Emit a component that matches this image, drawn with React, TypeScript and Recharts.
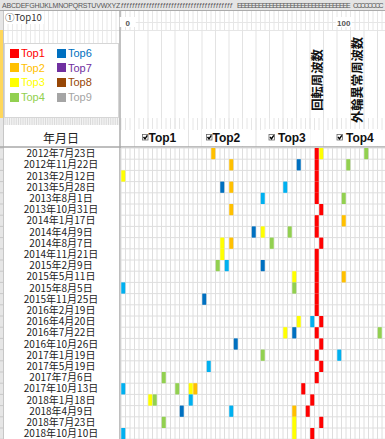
import React from 'react';
import { ScatterChart, Scatter, XAxis, YAxis, CartesianGrid, ReferenceLine, Legend } from 'recharts';

// measurement dates, one row each
const dates = [
  '2012年7月23日', '2012年11月22日', '2013年2月12日', '2013年5月28日', '2013年8月1日',
  '2013年10月31日', '2014年1月17日', '2014年4月9日', '2014年8月7日', '2014年11月21日',
  '2015年2月9日', '2015年5月11日', '2015年8月5日', '2015年11月25日', '2016年2月19日',
  '2016年4月20日', '2016年7月22日', '2016年10月26日', '2017年1月19日', '2017年5月19日',
  '2017年7月6日', '2017年10月13日', '2018年1月18日', '2018年4月9日', '2018年7月23日',
  '2018年10月10日',
];

// frequency bin (column) of each peak rank per row, null = not in visible range
const top1Cols = [43, 43, 43, 43, 43, 44, 43, 43, 44, 43, 43, 43, 43, 43, 43, 44, 43, 44, 43, 44, 43, 40, 42, 41, 44, 42];
const top2Cols = [20, 24, null, 24, null, 24, 49, null, 24, null, null, 49, null, null, null, null, null, null, null, null, null, 16, null, 38, null, null];
const top3Cols = [44, null, 0, null, null, null, null, 31, 22, 22, null, 38, null, null, null, 39, 36, null, null, null, null, 15, 6, null, 38, 38];
const top4Cols = [54, 50, null, null, 49, null, null, 37, 33, null, 21, null, 38, null, null, null, 57, null, 31, null, 9, 12, 7, null, 9, null];
const top5Cols = [null, null, null, 36, 31, null, null, null, null, null, 23, null, 0, null, null, 42, null, null, 48, 19, null, 0, 15, 24, null, 0];
const top6Cols = [null, 39, null, 22, null, null, null, 29, null, null, 31, null, null, 18, null, null, 38, 25, null, null, null, null, null, 13, null, null];

const rankNames = ['Top1', 'Top2', 'Top3', 'Top4', 'Top5', 'Top6'];
const rankColors = ['#FF0000', '#FFC000', '#FFFF00', '#92D050', '#00B0F0', '#0070C0'];
const rankCols = [top1Cols, top2Cols, top3Cols, top4Cols, top5Cols, top6Cols];

// legend (Top5 is not listed in the original sheet)
const legendNames = ['Top1', 'Top2', 'Top3', 'Top4', 'Top6', 'Top7', 'Top8', 'Top9'];
const legendColors = ['#FF0000', '#FFC000', '#FFFF00', '#92D050', '#0070C0', '#7030A0', '#974706', '#A5A5A5'];

// frequency scale labels on top
const hzLabels = ['0', '100'];
const hzCols = [1.5, 49.5];

// vertical marker captions
const markerNames = ['回転周波数', '外輪異常周波数'];
const markerCols = [43, 52];

const checkLabels = ['Top1', 'Top2', 'Top3', 'Top4'];
const checkBoxX = [142, 206, 268.5, 336.5];

const COLS = 59;
const ROWS = 26;
const LEFT = 121;
const TOP = 148;
const CELL_W = 4.5;
const CELL_H = 11.2;

const colTicks = Array.from({ length: COLS + 1 }, (_, i) => i);
const rowTicks = Array.from({ length: ROWS + 1 }, (_, i) => i);
const rowCenters = dates.map((_, i) => i + 0.5);

const toPoints = (cols: (number | null)[]) =>
  cols.flatMap((c, i) => (c == null ? [] : [{ x: c + 0.5, y: i + 0.5 }]));

const JP = '"Noto Sans CJK JP", sans-serif';
const SANS = '"Liberation Sans", Arial, sans-serif';

const DateTick = (p: any) => (
  <text x={61} y={p.y} dy={3.5} textAnchor="middle" fontSize={10} fill="#222" fontFamily={JP}>
    {dates[Math.floor(p.payload.value)]}
  </text>
);

const HzLabel = (text: string) => (p: any) => {
  const x = p.viewBox.x;
  return (
    <g>
      <rect x={x - 8} y={17} width={16} height={10} fill="#fff" />
      <text x={x} y={25.5} textAnchor="middle" fontSize={8} fontWeight={700} fill="#555" fontFamily={SANS}>
        {text}
      </text>
    </g>
  );
};

const MarkerLabel = (text: string) => (p: any) => {
  const x = p.viewBox.x;
  return (
    <text
      x={x}
      y={80}
      transform={`rotate(-90 ${x} 80)`}
      textAnchor="middle"
      dominantBaseline="central"
      fontSize={12.3}
      fontWeight={700}
      fill="#111"
      fontFamily={JP}
    >
      {text}
    </text>
  );
};

const LegendBox = () => (
  <div style={{ position: 'relative', width: 115, height: 75, background: '#fff', border: '1px solid #D6D6D6', boxSizing: 'border-box' }}>
    {legendNames.map((n, i) => {
      const col = i < 4 ? 0 : 1;
      const row = i % 4;
      const left = 5 + col * 47;
      const top = 4 + row * 14.7;
      return (
        <div key={n} style={{ position: 'absolute', left, top, height: 10, display: 'flex', alignItems: 'center' }}>
          <div style={{ width: 9, height: 9, background: legendColors[i] }} />
          <span style={{ marginLeft: 2, fontSize: 11, lineHeight: '10px', color: legendColors[i], fontFamily: SANS }}>{n}</span>
        </div>
      );
    })}
  </div>
);

const vLines = (key: string, x0: number, x1: number, step: number, y1: number, y2: number, color: string) => {
  const out: React.ReactElement[] = [];
  for (let x = x0, k = 0; x <= x1; x += step, k++) {
    out.push(<line key={`${key}${k}`} x1={x} x2={x} y1={y1} y2={y2} stroke={color} strokeWidth={1} />);
  }
  return out;
};

const Backdrop = () => (
  <svg width={385} height={439} style={{ position: 'absolute', left: 0, top: 0 }}>
    {/* sheet column letters */}
    <rect x={0} y={0} width={385} height={10} fill="#E4E4E4" />
    <text x={2} y={8} fontSize={7} fill="#555" fontFamily={SANS} letterSpacing={-0.2}>
      ABCDEFGHIJKLMNOPQRSTUVWXYZ
    </text>
    <text x={121} y={8} fontSize={7} fill="#555" fontFamily={SANS} fontStyle="italic" letterSpacing={0.85}>
      {'f'.repeat(40)}
    </text>
    <text x={237} y={8} fontSize={7} fill="#555" fontFamily={SANS} letterSpacing={-1.15}>
      {'E'.repeat(32)}
    </text>
    <text x={353} y={8} fontSize={7} fill="#555" fontFamily={SANS} letterSpacing={-1.4}>
      {'C'.repeat(8)}
    </text>
    <line x1={0} x2={385} y1={10.5} y2={10.5} stroke="#ABABAB" />

    {/* row header strip */}
    <rect x={0} y={11} width={3} height={428} fill="#E6E6E6" />
    <rect x={0} y={30} width={3} height={88} fill="#FFD75A" />
    <line x1={3.5} x2={3.5} y1={11} y2={439} stroke="#C6C6C6" />

    {/* left header grid */}
    {vLines('la', 8, 119, 4.5, 11, 43, '#E8E8E8')}
    <line x1={4} x2={120} y1={30.5} y2={30.5} stroke="#E4E4E4" />
    <rect x={4} y={11} width={40} height={13} fill="#fff" />
    <text x={5} y={20.5} fontSize={9.5} fill="#333" fontFamily={JP}>①Top10</text>
    <rect x={4} y={118} width={116} height={7} fill="#F3F3F3" />
    {vLines('lb', 5, 119, 2.25, 118, 125, '#DADADA')}
    <text x={61} y={137.5} dominantBaseline="central" textAnchor="middle" fontSize={12} fill="#222" fontFamily={JP}>
      年月日
    </text>

    {/* right header grid */}
    {vLines('ra', LEFT, 385, CELL_W, 11, 30, '#E6E6E6')}
    <line x1={LEFT} x2={385} y1={22.5} y2={22.5} stroke="#E6E6E6" />
    <line x1={LEFT} x2={385} y1={30.5} y2={30.5} stroke="#E6E6E6" />
    {vLines('rb', LEFT + 13.5, 385, 13.5, 30, 147, '#E3E3E3')}
    {vLines('rc', LEFT, 385, CELL_W, 118, 130, '#E6E6E6')}

    {/* checkbox row */}
    {checkLabels.map((t, i) => {
      const x = checkBoxX[i];
      const tx = i < 2 ? x + 6.5 : x + 9.5;
      return (
        <g key={t}>
          <rect x={x - 4} y={129} width={46} height={17} fill="#fff" />
          <rect x={x + 0.5} y={134.5} width={5.5} height={5.5} fill="#fff" stroke="#666" strokeWidth={0.8} />
          <path d={`M${x + 1.5} ${137} L${x + 3} ${138.8} L${x + 5.3} ${135.3}`} fill="none" stroke="#000" strokeWidth={1.4} />
          <text x={tx} y={141.5} fontSize={12} fontWeight={700} fill="#111" fontFamily={SANS}>{t}</text>
        </g>
      );
    })}

    {/* row header ticks in data area */}
    {rowTicks.map((r) => (
      <line key={`rh${r}`} x1={0} x2={3} y1={TOP + r * CELL_H} y2={TOP + r * CELL_H} stroke="#C8C8C8" />
    ))}

    <line x1={0} x2={385} y1={147} y2={147} stroke="#A8A8A8" strokeWidth={1.6} />
    <line x1={120} x2={120} y1={11} y2={439} stroke="#A6A6A6" strokeWidth={1.4} />
  </svg>
);

const gridX = ({ offset }: any) => colTicks.map((t) => offset.left + (t / COLS) * offset.width);
const gridY = ({ offset }: any) => rowTicks.map((t) => offset.top + (t / ROWS) * offset.height);

export default function App() {
  return (
    <div style={{ position: 'absolute', left: 0, top: 0, width: 385, height: 439, overflow: 'hidden', background: '#fff' }}>
      <Backdrop />
      <ScatterChart
        width={387}
        height={440}
        margin={{ top: TOP, left: 0, right: 0.5, bottom: 0.8 }}
        style={{ position: 'absolute', left: 0, top: 0 }}
      >
        <CartesianGrid
          stroke="#DEDEDE"
          strokeWidth={1}
          verticalCoordinatesGenerator={gridX}
          horizontalCoordinatesGenerator={gridY}
        />
        <XAxis type="number" dataKey="x" domain={[0, COLS]} hide allowDataOverflow />
        <YAxis
          type="number"
          dataKey="y"
          domain={[0, ROWS]}
          reversed
          ticks={rowCenters}
          width={LEFT}
          axisLine={false}
          tickLine={false}
          tick={<DateTick />}
          interval={0}
          allowDataOverflow
        />
        {hzLabels.map((t, i) => (
          <ReferenceLine key={`hz${t}`} x={hzCols[i]} stroke="none" label={HzLabel(t)} />
        ))}
        {markerNames.map((n, i) => (
          <ReferenceLine key={n} x={markerCols[i] + 0.5} stroke="none" label={MarkerLabel(n)} />
        ))}
        {rankNames.map((n, i) => (
          <Scatter
            key={n}
            name={n}
            data={toPoints(rankCols[i])}
            fill={rankColors[i]}
            isAnimationActive={false}
            shape={(p: any) => (
              <rect x={p.cx - CELL_W / 2 + 0.25} y={p.cy - CELL_H / 2} width={CELL_W - 0.5} height={CELL_H} fill={rankColors[i]} />
            )}
          />
        ))}
        <Legend
          layout="horizontal"
          verticalAlign="middle"
          align="center"
          content={() => <LegendBox />}
          wrapperStyle={{ left: 4, top: 43, width: 115, height: 75 }}
        />
      </ScatterChart>
    </div>
  );
}
